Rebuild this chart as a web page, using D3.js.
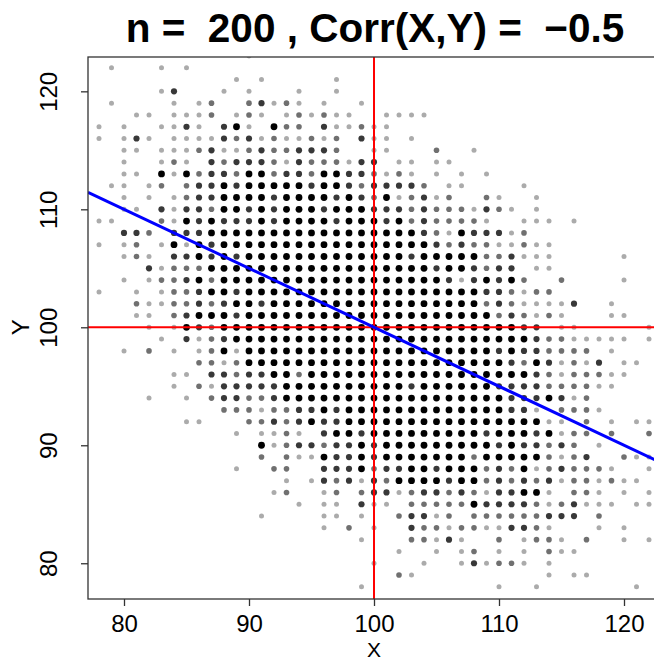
<!DOCTYPE html>
<html>
<head>
<meta charset="utf-8">
<script src="https://cdn.jsdelivr.net/npm/d3@7"></script>
<style>
  body { margin: 0; background: #fff; }
  svg { display: block; font-family: "Liberation Sans", Arial, Helvetica, sans-serif; }
</style>
</head>
<body>
<svg id="chart"></svg>
<script>
// overplotted sample on an integer grid: one string per Y value,
// one digit per X value starting at xStart (0 = empty ... 4 = black)
const xStart = 77;
const yRows = [123, 122, 121, 120, 119, 118, 117, 116, 115, 114, 113, 112, 111, 110, 109, 108,
  107, 106, 105, 104, 103, 102, 101, 100, 99, 98, 97, 96, 95, 94, 93, 92, 91, 90, 89, 88,
  87, 86, 85, 84, 83, 82, 81, 80, 79, 78];
const density = [
  "000 00000 00000 10000 00000 00000 00000 00000 00000 000",
  "001 00010 10000 00000 00000 00000 00000 00000 00000 000",
  "000 00000 00001 01000 00100 00000 00000 00000 00000 000",
  "000 00013 00010 10001 00100 00000 00000 00000 00000 000",
  "001 00001 01200 23121 01001 00000 00000 00000 00000 000",
  "000 01101 11201 21012 12110 01111 00000 00000 00000 000",
  "010 10011 31034 10422 03112 11000 00000 00000 00000 000",
  "010 13101 11132 31211 21203 11010 00000 00000 00000 000",
  "000 11011 12311 23223 33200 11000 20010 00000 00000 000",
  "000 10012 10323 33213 22213 30110 11000 00000 00000 000",
  "000 11041 42332 44233 24433 21210 10101 00000 00000 000",
  "001 10120 23343 44444 34432 33332 01100 00100 00000 000",
  "000 10101 23344 44344 44343 24123 12002 10010 00000 000",
  "000 11031 33244 34344 43444 33323 22213 21010 00000 000",
  "011 00021 43433 34344 44344 43423 22221 00111 01000 000",
  "000 33203 33444 44444 44444 44443 21433 31200 00000 000",
  "010 12014 14344 44444 44444 44444 32322 11211 00000 000",
  "000 12103 34343 44444 44444 44434 44442 23111 00000 100",
  "000 00312 22444 44444 44444 44444 34432 33011 00000 000",
  "000 10122 34244 44444 44444 44444 43134 34200 20000 100",
  "010 01012 23443 44444 44444 44444 44443 32122 00000 000",
  "000 02112 23234 43444 44444 44444 44442 32111 13001 000",
  "000 01102 34443 44444 44444 44444 44444 23212 10001 100",
  "000 00101 43244 44444 44444 44444 44444 44330 11000 001",
  "000 00010 31234 44444 44444 44444 44444 44432 21111 101",
  "000 10201 01241 44444 44444 44444 44444 34332 22201 000",
  "000 00000 02212 44444 44444 44444 44444 43243 12130 110",
  "000 00001 10332 33442 44444 44444 44444 44432 12221 100",
  "000 00001 02133 33344 44444 44434 44444 33332 22211 000",
  "000 00100 10233 22344 44444 44444 44444 43334 31200 000",
  "000 00000 00022 21223 34344 44444 44444 43310 22210 000",
  "000 00000 11000 22323 43344 44444 44444 44441 10201 011",
  "000 00000 00001 01121 03443 44444 44443 44434 12202 002",
  "000 00000 00000 04123 32334 34444 44444 34332 32010 000",
  "000 00000 00000 02021 14334 34444 44424 44442 12300 211",
  "000 00000 00001 00220 03334 23344 34442 32412 32221 001",
  "000 00000 00000 00010 13231 32444 43442 32323 12212 110",
  "000 00000 00000 00120 01202 33123 32321 33441 02210 101",
  "000 00000 00000 00001 01103 11022 22243 33321 23111 011",
  "000 00000 00000 01000 01101 00233 12022 22223 33020 000",
  "000 00000 00000 00000 01020 10032 21221 13321 00010 100",
  "000 00000 00000 00000 00001 00022 13100 20122 10200 101",
  "000 00000 00000 00000 00000 00100 10120 10102 11000 000",
  "000 00000 00000 00000 00000 10001 00131 22101 00000 000",
  "000 00000 00000 00000 00000 00210 00000 00001 01100 000",
  "000 00000 00000 00000 00001 00000 00000 10010 00000 010"
];
const xTicks = [80, 90, 100, 110, 120];
const yTicks = [80, 90, 100, 110, 120];
const nObs = 200;
const corr = -0.5;
const meanX = 100;
const meanY = 100;

const width = 654, height = 661;
const svg = d3.select("#chart").attr("width", width).attr("height", height);

const x = d3.scaleLinear().domain([77.12, 122.88]).range([88, 660]);
const y = d3.scaleLinear().domain([76.97, 122.91]).range([599, 57]);

const alpha = [0, 0.33, 0.56, 0.78, 1];
const rad = [0, 2.5, 2.8, 3.1, 3.4];

const cells = [];
yRows.forEach((yv, i) => {
  density[i].replace(/ /g, "").split("").forEach((c, j) => {
    if (+c > 0) cells.push({x: xStart + j, y: yv, k: +c});
  });
});

svg.append("clipPath").attr("id", "plot")
  .append("rect")
  .attr("x", x.range()[0]).attr("y", y.range()[1])
  .attr("width", x.range()[1] - x.range()[0])
  .attr("height", y.range()[0] - y.range()[1]);

const plot = svg.append("g").attr("clip-path", "url(#plot)");

plot.selectAll("circle")
  .data(cells)
  .join("circle")
  .attr("cx", d => x(d.x))
  .attr("cy", d => y(d.y))
  .attr("r", d => rad[d.k])
  .attr("fill", "#000")
  .attr("fill-opacity", d => alpha[d.k]);

// reference lines at the means
plot.append("line")
  .attr("x1", x(meanX)).attr("x2", x(meanX))
  .attr("y1", y.range()[0]).attr("y2", y.range()[1])
  .attr("stroke", "#ff0000").attr("stroke-width", 2);
plot.append("line")
  .attr("x1", x.range()[0]).attr("x2", x.range()[1])
  .attr("y1", y(meanY)).attr("y2", y(meanY))
  .attr("stroke", "#ff0000").attr("stroke-width", 2);

// regression line, slope = corr (equal sd)
const xd = x.domain();
plot.append("line")
  .attr("x1", x(xd[0])).attr("y1", y(meanY + corr * (xd[0] - meanX)))
  .attr("x2", x(xd[1])).attr("y2", y(meanY + corr * (xd[1] - meanX)))
  .attr("stroke", "#0000ff").attr("stroke-width", 3);

// box
svg.append("rect")
  .attr("x", x.range()[0]).attr("y", y.range()[1])
  .attr("width", x.range()[1] - x.range()[0])
  .attr("height", y.range()[0] - y.range()[1])
  .attr("fill", "none").attr("stroke", "#333").attr("stroke-width", 1.3);

const xAxis = svg.append("g")
  .attr("transform", `translate(0,${y.range()[0]})`)
  .call(d3.axisBottom(x).tickValues(xTicks).tickSize(7).tickFormat(d3.format("d")));
xAxis.select(".domain").remove();
xAxis.selectAll("line").attr("stroke", "#333").attr("stroke-width", 1.3);
xAxis.selectAll("text")
  .attr("y", 32.5).attr("dy", 0)
  .attr("fill", "#000").style("font-size", "24px")
  .style("font-family", '"Liberation Sans", Arial, sans-serif');

const yAxis = svg.append("g")
  .attr("transform", `translate(${x.range()[0]},0)`)
  .call(d3.axisLeft(y).tickValues(yTicks).tickSize(7).tickFormat(d3.format("d")));
yAxis.select(".domain").remove();
yAxis.selectAll("line").attr("stroke", "#333").attr("stroke-width", 1.3);
yAxis.selectAll("text")
  .attr("transform", "rotate(-90)")
  .attr("x", 0).attr("y", -31).attr("dy", 0)
  .attr("text-anchor", "middle")
  .attr("fill", "#000").style("font-size", "24px")
  .style("font-family", '"Liberation Sans", Arial, sans-serif');

svg.append("text")
  .attr("x", x(meanX)).attr("y", 656.5)
  .attr("text-anchor", "middle")
  .style("font-size", "21px")
  .text("X");

svg.append("text")
  .attr("transform", `translate(29,${y(meanY)}) rotate(-90)`)
  .attr("text-anchor", "middle")
  .style("font-size", "24px")
  .text("Y");

svg.append("text")
  .attr("x", 375).attr("y", 42)
  .attr("text-anchor", "middle")
  .style("font-size", "40.5px").style("font-weight", "bold")
  .style("white-space", "pre")
  .text(`n =  ${nObs} , Corr(X,Y) =  \u2212${Math.abs(corr)}`);
</script>
</body>
</html>
